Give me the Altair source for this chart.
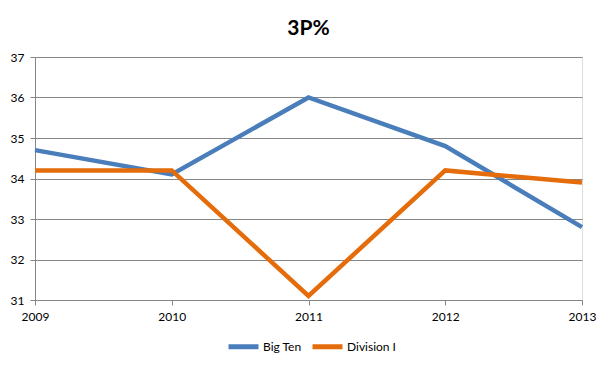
import altair as alt
import pandas as pd

years = ["2009", "2010", "2011", "2012", "2013"]
big_ten = [34.7, 34.1, 36.0, 34.8, 32.8]
division_i = [34.2, 34.2, 31.1, 34.2, 33.9]
series_names = ["Big Ten", "Division I"]
colors = ["#4A7EBB", "#E46C0A"]

rows = []
for y, v in zip(years, big_ten):
    rows.append({"Year": y, "Value": v, "Series": series_names[0]})
for y, v in zip(years, division_i):
    rows.append({"Year": y, "Value": v, "Series": series_names[1]})
df = pd.DataFrame(rows)

FONT = "Lato"

chart = alt.Chart(df).mark_line(strokeWidth=4.5, strokeCap="butt").encode(
    x=alt.X("Year:N", sort=years,
            scale=alt.Scale(type="point", padding=0),
            axis=alt.Axis(title=None, labelAngle=0, grid=False, domainColor="#868686",
                          tickColor="#868686", tickSize=5, labelPadding=6,
                          labelFontSize=12, labelColor="#000000", labelFont=FONT)),
    y=alt.Y("Value:Q",
            scale=alt.Scale(domain=[31, 37], nice=False, zero=False),
            axis=alt.Axis(title=None, values=[31, 32, 33, 34, 35, 36, 37],
                          grid=True, gridColor="#868686", gridWidth=1,
                          domainColor="#868686", tickColor="#868686", tickSize=5,
                          labelPadding=6, labelFontSize=12, labelColor="#000000",
                          labelFont=FONT)),
    color=alt.Color("Series:N", sort=series_names,
                    scale=alt.Scale(domain=series_names, range=colors),
                    legend=alt.Legend(title=None, orient="none", direction="horizontal",
                                      legendX=191, legendY=272,
                                      symbolType="stroke", symbolStrokeWidth=5,
                                      symbolSize=900, labelFontSize=12, labelFont=FONT,
                                      labelColor="#000000", columnPadding=0,
                                      symbolOffset=0, labelOffset=2)),
).properties(
    width=547,
    height=243,
    title=alt.TitleParams("3P%", fontSize=21, font=FONT, fontWeight="bold",
                          anchor="middle", offset=12, color="#000000"),
    padding={"left": 27, "top": 49, "right": 22, "bottom": 58},
    autosize=alt.AutoSizeParams(type="none"),
).configure_view(stroke=None).configure(background="white")

chart.save("out.html", embed_options={"renderer": "svg", "actions": False})
